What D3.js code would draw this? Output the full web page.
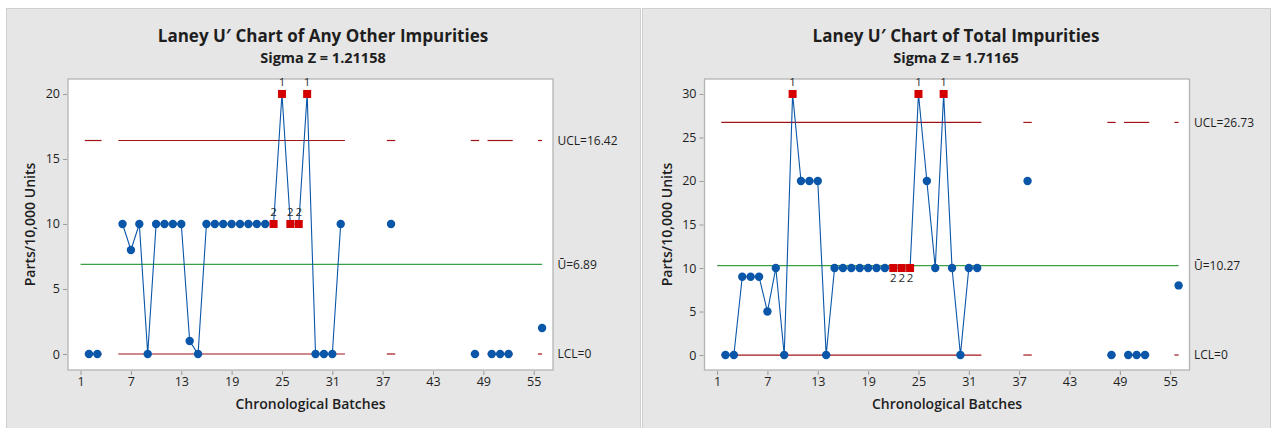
<!DOCTYPE html>
<html>
<head>
<meta charset="utf-8">
<script src="https://cdn.jsdelivr.net/npm/d3@7"></script>
<style>
  body { margin: 0; background: #ffffff; }
  text { font-family: "Open Sans", "Noto Sans", sans-serif; }
</style>
</head>
<body>
<svg id="chart" width="1271" height="428"></svg>
<script>
// Batch numbers 1..56 (chronological order)
const batches = [1,2,3,4,5,6,7,8,9,10,11,12,13,14,15,16,17,18,19,20,21,22,23,24,25,26,27,28,
                 29,30,31,32,33,34,35,36,37,38,39,40,41,42,43,44,45,46,47,48,49,50,51,52,53,54,55,56];

// Parts per 10,000 units; null = batch not tested
const otherImpurities = [null,0,0,null,null,10,8,10,0,10,10,10,10,1,0,10,10,10,10,10,10,10,10,10,20,10,10,20,
                         0,0,0,10,null,null,null,null,null,10,null,null,null,null,null,null,null,null,null,0,null,0,0,0,null,null,null,2];
const totalImpurities = [null,0,0,9,9,9,5,10,0,30,20,20,20,0,10,10,10,10,10,10,10,10,10,10,30,20,10,30,
                         10,0,10,10,null,null,null,null,null,20,null,null,null,null,null,null,null,null,null,0,null,0,0,0,null,null,null,8];

// Failed tests: batch and test number
const otherFlags = [{batch:24,test:2},{batch:25,test:1},{batch:26,test:2},{batch:27,test:2},{batch:28,test:1}];
const totalFlags = [{batch:10,test:1},{batch:22,test:2},{batch:23,test:2},{batch:24,test:2},{batch:25,test:1},{batch:28,test:1}];

// Control limits
const otherLimits = { ucl: 16.42, center: 6.89, lcl: 0 };
const totalLimits = { ucl: 26.73, center: 10.27, lcl: 0 };
const otherSigmaZ = "1.21158";
const totalSigmaZ = "1.71165";

// Axis ticks
const xTicks = [1,7,13,19,25,31,37,43,49,55];
const otherYTicks = [0,5,10,15,20];
const totalYTicks = [0,5,10,15,20,25,30];

const svg = d3.select("#chart");
const BLUE = "#0a56a8", RED = "#d40000", DARKRED = "#a01418", GREEN = "#3aa043";

function drawPanel(o) {
  const g = svg.append("g");
  // panel background
  g.append("rect").attr("x", o.px0 + 0.5).attr("y", 8.5).attr("width", o.pw).attr("height", 430)
    .attr("fill", "#e6e6e6").attr("stroke", "#cfcfcf");

  const x = d3.scaleLinear().domain([-0.5, 57.3]).range([o.left, o.right]);
  const y = d3.scaleLinear().domain(o.yDomain).range([o.bottom, o.top]);

  // plot area
  g.append("rect").attr("x", o.left).attr("y", o.top).attr("width", o.right - o.left).attr("height", o.bottom - o.top)
    .attr("fill", "#ffffff").attr("stroke", "#b4b4b4").attr("stroke-width", 1.3);

  // titles
  g.append("text").attr("x", o.px0 + o.pw / 2).attr("y", 42).attr("text-anchor", "middle")
    .attr("font-size", 17).attr("font-weight", 700).attr("fill", "#1e1e1e").text(o.title);
  g.append("text").attr("x", o.px0 + o.pw / 2).attr("y", 63).attr("text-anchor", "middle")
    .attr("font-size", 14.5).attr("font-weight", 700).attr("fill", "#1e1e1e").text("Sigma Z = " + o.sigmaZ);

  // axes
  const xAxis = d3.axisBottom(x).tickValues(xTicks).tickSize(4).tickPadding(2).tickFormat(d3.format("d"));
  const ax = g.append("g").attr("transform", `translate(0,${o.bottom + 1})`).call(xAxis);
  const yAxis = d3.axisLeft(y).tickValues(o.yTicks).tickSize(4).tickPadding(3).tickFormat(d3.format("d"));
  const ay = g.append("g").attr("transform", `translate(${o.left - 1},0)`).call(yAxis);
  [ax, ay].forEach(a => {
    a.select(".domain").remove();
    a.selectAll(".tick line").attr("stroke", "#9a9a9a");
    a.selectAll(".tick text").attr("font-size", 12.5).attr("fill", "#1e1e1e").attr("font-family", "'Open Sans', sans-serif");
  });

  g.append("text").attr("x", (o.left + o.right) / 2).attr("y", 409).attr("text-anchor", "middle")
    .attr("font-size", 14).attr("font-weight", 600).attr("fill", "#1e1e1e").text("Chronological Batches");
  g.append("text").attr("transform", `translate(${o.left - 33},${(o.top + o.bottom) / 2}) rotate(-90)`)
    .attr("text-anchor", "middle").attr("font-size", 14).attr("font-weight", 600).attr("fill", "#1e1e1e")
    .text("Parts/10,000 Units");

  const pts = batches.map((b, i) => ({ batch: b, value: o.values[i] }));
  const present = pts.filter(d => d.value !== null);

  // limit segments: each tested batch owns [b-0.5, b+0.5], clipped to the batch range
  const first = batches[0], last = batches[batches.length - 1];
  const segs = [];
  present.forEach(d => {
    const a = Math.max(first, d.batch - 0.5), b = Math.min(last, d.batch + 0.5);
    const prev = segs[segs.length - 1];
    if (prev && Math.abs(prev[1] - a) < 1e-9) prev[1] = b; else segs.push([a, b]);
  });
  [o.limits.ucl, o.limits.lcl].forEach(v => {
    g.selectAll(null).data(segs).join("line")
      .attr("x1", s => x(s[0])).attr("x2", s => x(s[1]))
      .attr("y1", y(v)).attr("y2", y(v))
      .attr("stroke", DARKRED).attr("stroke-width", 1.2);
  });
  g.append("line").attr("x1", x(first)).attr("x2", x(last))
    .attr("y1", y(o.limits.center)).attr("y2", y(o.limits.center))
    .attr("stroke", GREEN).attr("stroke-width", 1.3);

  // limit labels
  const lx = o.right + 4.5;
  const lab = (v, t) => g.append("text").attr("x", lx).attr("y", y(v)).attr("dy", "0.35em")
    .attr("font-size", 12).attr("fill", "#1e1e1e").text(t);
  lab(o.limits.ucl, "UCL=" + o.limits.ucl.toFixed(2));
  lab(o.limits.center, "Ū=" + o.limits.center.toFixed(2));
  lab(o.limits.lcl, "LCL=" + o.limits.lcl);

  // data line, broken at untested batches
  const line = d3.line().defined(d => d.value !== null).x(d => x(d.batch)).y(d => y(d.value));
  g.append("path").datum(pts).attr("d", line).attr("fill", "none").attr("stroke", BLUE).attr("stroke-width", 1.1);

  const flagged = new Map(o.flags.map(f => [f.batch, f.test]));
  g.selectAll(null).data(present.filter(d => !flagged.has(d.batch))).join("circle")
    .attr("cx", d => x(d.batch)).attr("cy", d => y(d.value)).attr("r", 4.2).attr("fill", BLUE);
  g.selectAll(null).data(present.filter(d => flagged.has(d.batch))).join("rect")
    .attr("x", d => x(d.batch) - 4).attr("y", d => y(d.value) - 4).attr("width", 8).attr("height", 8).attr("fill", RED);

  // test number labels
  g.selectAll(null).data(o.flags).join("text")
    .attr("x", f => x(f.batch))
    .attr("y", f => {
      const v = o.values[batches.indexOf(f.batch)];
      return (f.test === 2 && o.twoBelow) ? y(v) + 14 : y(v) - 8;
    })
    .attr("text-anchor", "middle").attr("font-size", 11.5).attr("fill", "#2a2a2a").text(f => f.test);
}

drawPanel({
  px0: 6, pw: 634, left: 68, right: 553, top: 79, bottom: 370,
  yDomain: [-1.23, 21.15], yTicks: otherYTicks, values: otherImpurities, flags: otherFlags,
  limits: otherLimits, sigmaZ: otherSigmaZ, twoBelow: false,
  title: "Laney U′ Chart of Any Other Impurities"
});
drawPanel({
  px0: 642, pw: 628, left: 704.5, right: 1189.5, top: 79, bottom: 370,
  yDomain: [-1.72, 31.72], yTicks: totalYTicks, values: totalImpurities, flags: totalFlags,
  limits: totalLimits, sigmaZ: totalSigmaZ, twoBelow: true,
  title: "Laney U′ Chart of Total Impurities"
});
</script>
</body>
</html>
